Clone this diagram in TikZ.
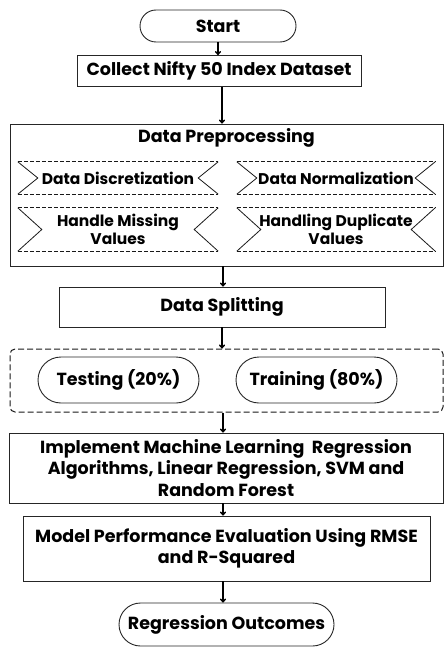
\documentclass[tikz,border=0pt]{standalone}
\usepackage{fontspec}
\setmainfont{Poppins}
\usetikzlibrary{shapes.misc,arrows.meta,calc}
\begin{document}
\begin{tikzpicture}[x=1pt,y=-1pt,
  every node/.style={font=\fontsize{17.5}{21.5}\selectfont\bfseries, align=center, inner sep=0pt},
  boxs/.style={draw=black!85, line width=0.9pt, minimum width=#1},
  stad/.style={draw=black!85, line width=0.9pt, rounded rectangle, minimum width=#1},
  arr/.style={-{To[length=4pt,width=6pt]}, line width=1.4pt, black},
  bantext/.style={font=\fontsize{15.5}{17.5}\selectfont\bfseries},
  dsh/.style={draw=black!90, line width=0.9pt, dash pattern=on 4pt off 2pt},
  notch/.style={draw=black!90, line width=0.8pt}
]
\useasboundingbox (0,0) rectangle (445,650);

\node[stad=156, minimum height=32] (start) at (218,26) {Start};
\node[boxs=284, minimum height=31] (collect) at (219,71) {Collect Nifty 50 Index Dataset};
\node[boxs=433, minimum height=142] (pre) at (226.5,195) {};
\node (pretitle) at (226.5,138) {Data Preprocessing};

% banners
\node[bantext, minimum width=200, minimum height=32] (b1) at (118,178) {Data Discretization};
\node[bantext, minimum width=198, minimum height=32] (b2) at (336,178) {Data Normalization};
\node[bantext, minimum width=200, minimum height=43] (b3) at (118,229.5) {Handle Missing\\Values};
\node[bantext, minimum width=198, minimum height=43] (b4) at (336,229.5) {Handling Duplicate\\Values};
\foreach \b/\d in {b1/20,b2/20,b3/24,b4/24}{
  \draw[dsh] (\b.north west) -- (\b.north east);
  \draw[dsh] (\b.south west) -- (\b.south east);
  \draw[notch] (\b.north west) -- ($(\b.west)+(\d,0)$) -- (\b.south west);
  \draw[notch] (\b.north east) -- ($(\b.east)+(-\d,0)$) -- (\b.south east);
}

\node[boxs=326, minimum height=40] (split) at (222,307) {Data Splitting};
\node[draw=black!90, line width=1pt, dash pattern=on 6pt off 3pt, rounded corners=5pt, minimum width=433, minimum height=63] (grp) at (226.5,380.5) {};
\node[stad=161, minimum height=46] (test) at (118.5,380) {Testing (20\%)};
\node[stad=161, minimum height=46] (train) at (316.5,380) {Training (80\%)};
\node[boxs=434, minimum height=70] (impl) at (226,468) {Implement Machine Learning\ \ Regression\\Algorithms, Linear Regression, SVM and\\Random Forest};
\node[boxs=407, minimum height=65] (model) at (226.5,548.5) {Model Performance Evaluation Using RMSE\\and R-Squared};
\node[stad=215, minimum height=43] (out) at (226.5,624.5) {Regression Outcomes};

\draw[arr] (start.south) -- (start.south |- collect.north);
\draw[arr] ([xshift=3pt]collect.south) -- ([xshift=3pt]collect.south |- pre.north);
\draw[arr] ([xshift=-3.5pt]pre.south) -- ([xshift=-3.5pt]pre.south |- split.north);
\draw[arr] (split.south) -- (split.south |- grp.north);
\draw[arr] ([xshift=-3.5pt]grp.south) -- ([xshift=-3.5pt]grp.south |- impl.north);
\draw[arr] ([xshift=-3pt]impl.south) -- ([xshift=-3pt]impl.south |- model.north);
\draw[arr] ([xshift=-3.5pt]model.south) -- ([xshift=-3.5pt]model.south |- out.north);
\end{tikzpicture}
\end{document}
